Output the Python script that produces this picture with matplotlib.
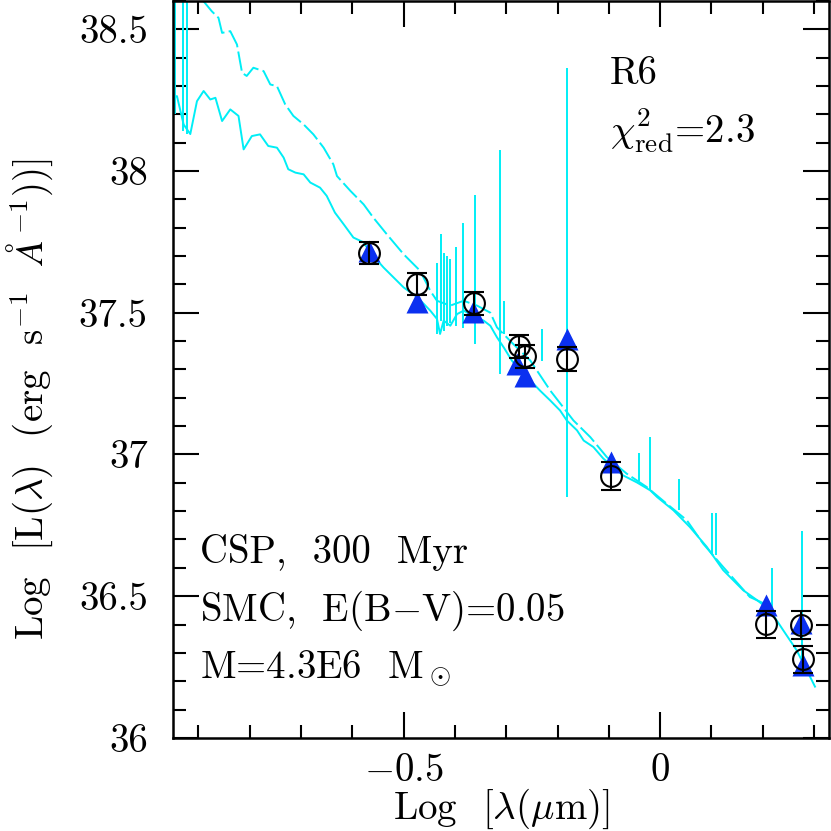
import numpy as np
import matplotlib.pyplot as plt
from matplotlib.ticker import MultipleLocator, FuncFormatter

plt.rcParams['font.family'] = 'serif'
plt.rcParams['font.serif'] = ['cmr10']
plt.rcParams['mathtext.fontset'] = 'cm'
plt.rcParams['axes.formatter.use_mathtext'] = True

# observed photometry
obs_lam = [-0.567, -0.473, -0.363, -0.275, -0.263, -0.182, -0.096, 0.207, 0.275, 0.279]
obs_L = [37.712, 37.601, 37.533, 37.381, 37.346, 37.337, 36.924, 36.401, 36.398, 36.277]
obs_err = [0.039, 0.040, 0.040, 0.040, 0.041, 0.042, 0.048, 0.048, 0.048, 0.048]

# model fluxes in the filters
mod_lam = [-0.567, -0.473, -0.364, -0.279, -0.263, -0.182, -0.096, 0.207, 0.275, 0.279]
mod_L = [37.716, 37.536, 37.501, 37.319, 37.278, 37.407, 36.973, 36.468, 36.407, 36.257]

# model spectrum (reddened), solid
spec_lam = [-0.950, -0.942, -0.929, -0.916, -0.903, -0.890, -0.877, -0.867, -0.854, -0.838,
            -0.822, -0.812, -0.796, -0.780, -0.764, -0.747, -0.734, -0.725, -0.711, -0.695,
            -0.682, -0.663, -0.650, -0.634, -0.617, -0.598, -0.578, -0.565, -0.539, -0.500,
            -0.473, -0.448, -0.435, -0.429, -0.422, -0.409, -0.396, -0.383, -0.364, -0.344,
            -0.331, -0.318, -0.305, -0.289, -0.273, -0.253, -0.234, -0.214, -0.195, -0.182,
            -0.162, -0.149, -0.130, -0.111, -0.091, -0.072, -0.045, -0.019, -0.006, 0.026,
            0.058, 0.091, 0.123, 0.162, 0.189, 0.214, 0.240, 0.266, 0.286, 0.302]
spec_L = [38.258, 38.264, 38.164, 38.130, 38.246, 38.282, 38.252, 38.258, 38.176, 38.217,
          38.194, 38.076, 38.123, 38.129, 38.088, 38.082, 38.047, 38.006, 37.994, 37.988,
          37.959, 37.941, 37.912, 37.853, 37.812, 37.765, 37.748, 37.712, 37.659, 37.589,
          37.554, 37.507, 37.478, 37.425, 37.472, 37.454, 37.495, 37.507, 37.489, 37.472,
          37.454, 37.413, 37.378, 37.331, 37.296, 37.261, 37.225, 37.190, 37.155, 37.120,
          37.085, 37.049, 37.026, 36.986, 36.955, 36.926, 36.901, 36.873, 36.850, 36.803,
          36.744, 36.674, 36.592, 36.521, 36.486, 36.451, 36.380, 36.310, 36.239, 36.181]

# second model spectrum, dashed
dash_lam = [-0.900, -0.874, -0.861, -0.854, -0.838, -0.825, -0.815, -0.806, -0.793, -0.773,
            -0.760, -0.747, -0.731, -0.715, -0.695, -0.676, -0.656, -0.637, -0.630, -0.604,
            -0.578, -0.559, -0.533, -0.500, -0.468, -0.448, -0.435, -0.409, -0.383, -0.357,
            -0.331, -0.318, -0.286, -0.253, -0.214, -0.169, -0.136, -0.104, -0.065, -0.026,
            0.013, 0.052, 0.084, 0.123, 0.175, 0.214]
dash_L = [38.620, 38.563, 38.540, 38.487, 38.493, 38.446, 38.346, 38.335, 38.364, 38.352,
          38.305, 38.299, 38.235, 38.194, 38.164, 38.129, 38.082, 38.023, 37.982, 37.930,
          37.882, 37.835, 37.777, 37.706, 37.648, 37.577, 37.542, 37.525, 37.542, 37.525,
          37.500, 37.448, 37.389, 37.331, 37.225, 37.120, 37.061, 36.991, 36.932, 36.885,
          36.826, 36.768, 36.685, 36.603, 36.497, 36.465]

# emission / absorption lines in the spectra
line_lam = [-0.945, -0.930, -0.922, -0.435, -0.427, -0.421, -0.415, -0.409, -0.398, -0.385,
            -0.360, -0.312, -0.305, -0.231, -0.181, -0.041, -0.019, 0.037, 0.101, 0.109,
            0.218, 0.276]
line_lo = [38.20, 38.14, 38.13, 37.426, 37.472, 37.437, 37.454, 37.465, 37.454, 37.447,
           37.391, 37.285, 37.426, 37.331, 36.849, 36.908, 36.873, 36.803, 36.644, 36.644,
           36.451, 36.229]
line_hi = [38.70, 38.70, 38.70, 37.676, 37.778, 37.711, 37.701, 37.690, 37.732, 37.817,
           37.915, 38.074, 37.542, 37.444, 38.363, 37.004, 37.063, 36.915, 36.792, 36.792,
           36.599, 36.729]

cyan = '#00eef6'
fs = 28

fig = plt.figure(figsize=(8.31, 8.31), dpi=100)
ax = fig.add_axes([0.208, 0.112, 0.790, 0.887])

ax.plot(spec_lam, spec_L, color=cyan, lw=1.4)
ax.plot(dash_lam, dash_L, color=cyan, lw=1.4, dashes=(10, 2.2))
ax.vlines(line_lam, line_lo, line_hi, color=cyan, lw=1.4)

ax.plot(mod_lam, mod_L, '^', color='#0b30f0', ms=16, mec='none')
ax.errorbar(obs_lam, obs_L, yerr=obs_err, fmt='o', mfc='none', mec='k', ms=15, mew=1.5,
            ecolor='k', elinewidth=1.5, capsize=7.5, capthick=1.5)

ax.set_xlim(-0.95, 0.33)
ax.set_ylim(36, 38.6)

ax.xaxis.set_major_locator(MultipleLocator(0.5))
ax.xaxis.set_minor_locator(MultipleLocator(0.1))
ax.yaxis.set_major_locator(MultipleLocator(0.5))
ax.yaxis.set_minor_locator(MultipleLocator(0.1))
ax.xaxis.set_major_formatter(FuncFormatter(lambda v, p: '$%g$' % v))
ax.yaxis.set_major_formatter(FuncFormatter(lambda v, p: '%g' % v))

ax.tick_params(which='both', direction='in', top=True, right=True, width=1.5, labelsize=fs)
ax.tick_params(which='major', length=19)
ax.tick_params(which='minor', length=9.5)
ax.tick_params(axis='x', pad=11)
ax.tick_params(axis='y', pad=18)
for s in ax.spines.values():
    s.set_linewidth(1.8)

ax.set_xlabel(r'Log  [$\lambda$($\mu$m)]', fontsize=fs)
ax.xaxis.set_label_coords(0.5, -0.066)
ax.set_ylabel(r'Log  [L($\lambda$)  (erg  s$^{-1}$  $\AA^{-1}$))]', fontsize=fs)
ax.yaxis.set_label_coords(-0.180, 0.46)

ax.text(0.666, 0.900, 'R6', transform=ax.transAxes, fontsize=fs, va='center')
ax.text(0.666, 0.824, r'$\chi^2_{\rm red}$=2.3', transform=ax.transAxes, fontsize=fs, va='center')
ax.text(0.042, 0.252, 'CSP,  300  Myr', transform=ax.transAxes, fontsize=fs, va='center')
ax.text(0.042, 0.173, r'SMC,  E(B$-$V)=0.05', transform=ax.transAxes, fontsize=fs, va='center')
ax.text(0.042, 0.094, r'M=4.3E6  M$_\odot$', transform=ax.transAxes, fontsize=fs, va='center')

fig.savefig('out.png', dpi=100)
